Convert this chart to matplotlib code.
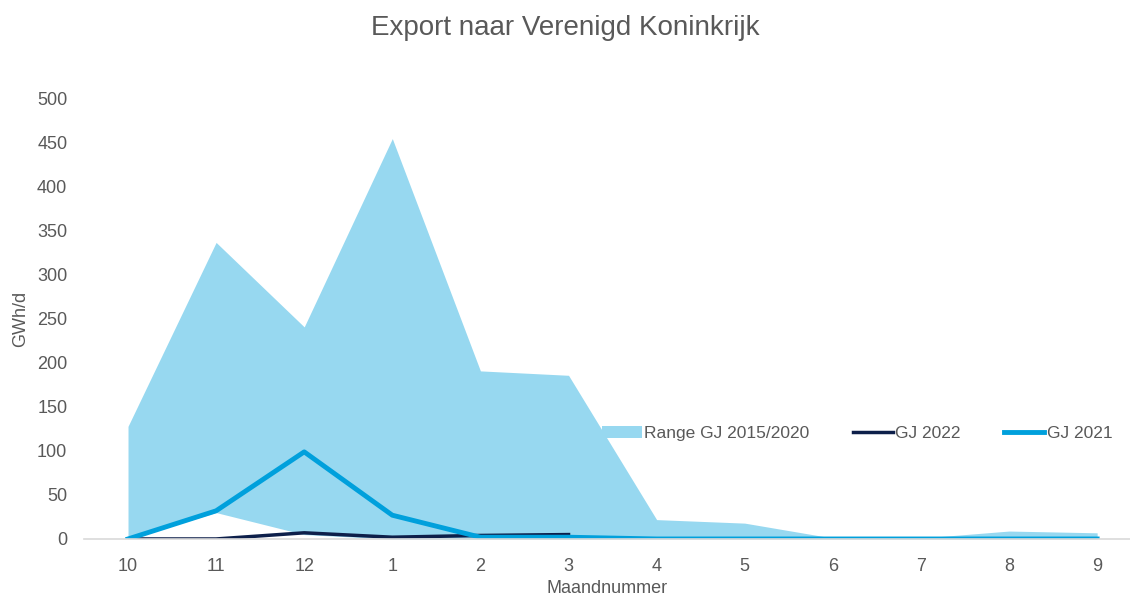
import numpy as np
import matplotlib.pyplot as plt

plt.rcParams['font.family'] = ['Liberation Sans', 'DejaVu Sans']

# Maanden (gasjaar loopt van oktober t/m september)
months = ['10', '11', '12', '1', '2', '3', '4', '5', '6', '7', '8', '9']

# Range GJ 2015/2020 (min en max)
range_low = [0, 30, 5, 0, 0, 0, 0, 0, 0, 0, 0, 0]
range_high = [128, 337, 241, 455, 191, 186, 22, 18, 1, 1, 9, 7]

# Gasjaren
gj2022 = [0, 0, 7, 2, 4, 5]
gj2021 = [0, 32, 99, 27, 2, 2, 0, 0, 0, 0, 0, 0]

text_col = '#595959'
x = np.arange(len(months))

fig = plt.figure(figsize=(11.3, 5.97), dpi=100)
ax = fig.add_axes([0.0743, 0.0972, 0.9257, 0.737])

ax.fill_between(x, range_low, range_high, color='#97d8f0', linewidth=0,
                label='Range GJ 2015/2020')
ax.plot(x[:len(gj2022)], gj2022, color='#0d1f4a', linewidth=2.5, label='GJ 2022',
        solid_joinstyle='round')
ax.plot(x, gj2021, color='#00a0dc', linewidth=3.5, label='GJ 2021',
        solid_joinstyle='round')

ax.set_xlim(-0.5, -0.5 + 1046 / 88.1)
ax.set_ylim(0, 500)
ax.set_xticks(x)
ax.set_xticklabels(months)
ax.set_yticks(np.arange(0, 501, 50))

for s in ['top', 'right', 'left']:
    ax.spines[s].set_visible(False)
ax.spines['bottom'].set_color('#d9d9d9')
ax.spines['bottom'].set_linewidth(1.2)
ax.tick_params(axis='both', length=0, labelsize=13, colors=text_col)
ax.tick_params(axis='x', pad=14)
ax.tick_params(axis='y', pad=12)

ax.set_xlabel('Maandnummer', fontsize=13, color=text_col, labelpad=3)
ax.set_ylabel('GWh/d', fontsize=13, color=text_col, labelpad=6)
fig.suptitle('Export naar Verenigd Koninkrijk', fontsize=20, color=text_col, y=0.975)

leg = ax.legend(loc='center left', bbox_to_anchor=(0.48, 0.24), ncol=3, frameon=False,
                fontsize=12.5, handlelength=2.3, handletextpad=0.15, columnspacing=2.5)
for t in leg.get_texts():
    t.set_color(text_col)

fig.savefig('out.png', dpi=100)
